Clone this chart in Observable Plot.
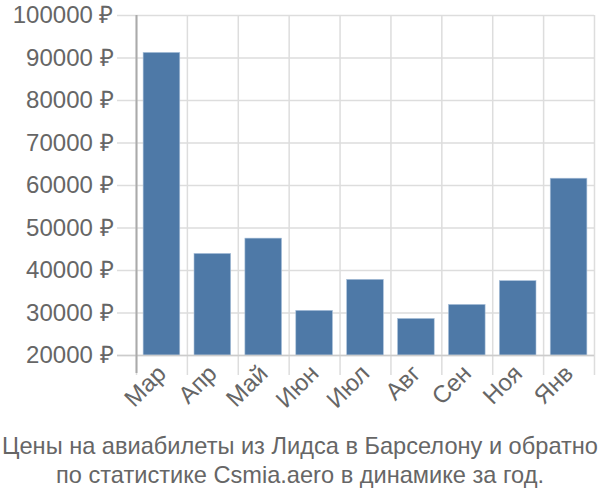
<!DOCTYPE html>
<html>
<head>
<meta charset="utf-8">
<script src="https://cdn.jsdelivr.net/npm/d3@7"></script>
<script src="https://cdn.jsdelivr.net/npm/@observablehq/plot@0.6"></script>
<style>
  body { margin: 0; background: #fff; }
  #chart { width: 600px; font-family: "Liberation Sans", Arial, sans-serif; }
  .caption { text-align: center; color: #666; font-size: 23.6px; line-height: 29px; margin-top: 2px; font-family: "Liberation Sans", Arial, sans-serif; white-space: nowrap; }
</style>
</head>
<body>
<div id="chart"></div>
<div class="caption">Цены на авиабилеты из Лидса в Барселону и обратно<br>по статистике Csmia.aero в динамике за год.</div>
<script>
const months = ["Мар", "Апр", "Май", "Июн", "Июл", "Авг", "Сен", "Ноя", "Янв"];
const prices = [91200, 43900, 47500, 30500, 37800, 28600, 31900, 37500, 61600];
const yTicks = [20000, 30000, 40000, 50000, 60000, 70000, 80000, 90000, 100000];

const data = months.map((m, i) => ({month: m, price: prices[i]}));

const baseOpts = {
  width: 600,
  height: 430,
  marginTop: 15,
  marginBottom: 75,
  marginLeft: 136,
  marginRight: 6,
  style: {fontFamily: "'Liberation Sans', Arial, sans-serif", fontSize: "24px", color: "#666", background: "#fff"},
  x: {domain: months, paddingInner: 0.28, paddingOuter: 0.14, align: 0.5, round: false, label: null},
  y: {domain: [20000, 100000], label: null}
};

function build(step) {
  return Plot.plot({
    ...baseOpts,
    marks: [
      // horizontal grid lines (extend left as ticks)
      Plot.ruleY(yTicks, {y: d => d, stroke: "#ddd", strokeWidth: 1.5, insetLeft: -19}),
      // vertical grid lines at band boundaries
      Plot.ruleX(months, {x: d => d, dx: -step / 2, stroke: "#ddd", strokeWidth: 1.5, insetBottom: -20}),
      Plot.ruleX([months[months.length - 1]], {x: d => d, dx: step / 2, stroke: "#ddd", strokeWidth: 1.5, insetBottom: -20}),
      Plot.barY(data, {x: "month", y1: 20000, y2: "price", fill: "#4e79a7", stroke: "#a9c0da", strokeWidth: 0.6}),
      // baseline
      Plot.ruleY([20000], {stroke: "#ccc", strokeWidth: 1.5, insetLeft: -19}),
      // left axis line
      Plot.ruleX([months[0]], {x: d => d, dx: -step / 2, stroke: "#aaa", strokeWidth: 2, insetBottom: -18}),
      Plot.axisY({ticks: yTicks, tickFormat: d => d + " ₽", tickSize: 0, tickPadding: 23, fill: "#666", fontSize: 24, label: null}),
      Plot.axisX({tickSize: 0, tickRotate: -45, tickPadding: 14, fill: "#666", fontSize: 24, label: null})
    ]
  });
}

const first = build(0);
const step = first.scale("x").step;
const chart = build(step);
document.getElementById("chart").appendChild(chart);
</script>
</body>
</html>
